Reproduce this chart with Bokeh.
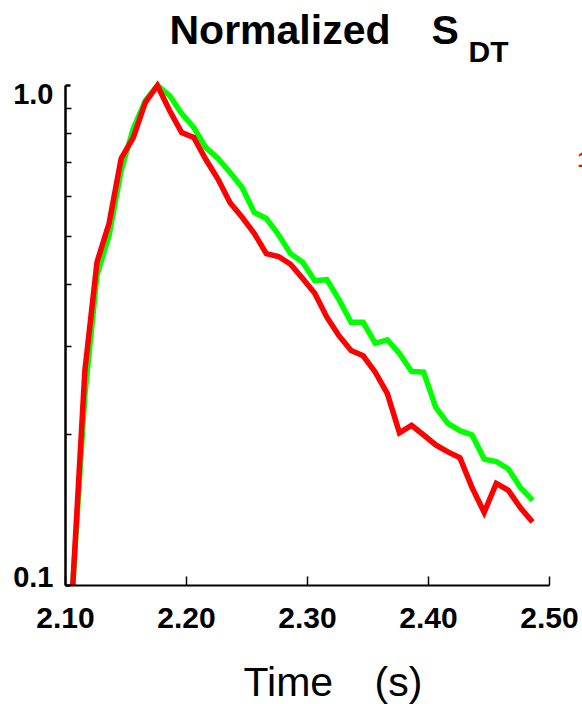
from bokeh.plotting import figure
from bokeh.models import (Label, FixedTicker, NumeralTickFormatter, Range1d,
                          CustomJSTickFormatter, LinearAxis, LogAxis)
from bokeh.embed import file_html
from bokeh.resources import INLINE

# ---- data ----
time_s = [2.106, 2.116, 2.126, 2.136, 2.146, 2.156, 2.166, 2.176, 2.186, 2.196,
          2.206, 2.216, 2.226, 2.236, 2.246, 2.256, 2.266, 2.276, 2.286, 2.296,
          2.306, 2.316, 2.326, 2.336, 2.346, 2.356, 2.366, 2.376, 2.386, 2.396,
          2.406, 2.416, 2.426, 2.436, 2.446, 2.456, 2.466, 2.476, 2.486]
green_sdt = [0.100, 0.240, 0.417, 0.501, 0.676, 0.820, 0.933, 1.000, 0.955, 0.879,
             0.824, 0.751, 0.715, 0.670, 0.625, 0.557, 0.542, 0.503, 0.461, 0.443,
             0.407, 0.409, 0.373, 0.336, 0.336, 0.305, 0.310, 0.291, 0.268, 0.267,
             0.227, 0.211, 0.204, 0.200, 0.179, 0.177, 0.171, 0.157, 0.148]
red_sdt = [0.100, 0.269, 0.443, 0.530, 0.715, 0.787, 0.925, 1.000, 0.891, 0.805,
           0.787, 0.711, 0.650, 0.583, 0.545, 0.506, 0.461, 0.455, 0.439, 0.411,
           0.384, 0.344, 0.316, 0.295, 0.288, 0.267, 0.242, 0.202, 0.209, 0.200,
           0.191, 0.185, 0.180, 0.157, 0.140, 0.160, 0.155, 0.143, 0.134]
x_ticks = [2.10, 2.20, 2.30, 2.40, 2.50]
y_major = [0.1, 1.0]
y_minor = [0.2, 0.3, 0.4, 0.5, 0.6, 0.7, 0.8, 0.9]
y_tick_labels = ["1.0", "0.1"]

X0, X1 = 2.10, 2.50
Y0, Y1 = 0.1, 1.0

W, H = 582, 704
# plot area (pixels) of the axes box inside the canvas
LEFT, RIGHT, TOP, BOTTOM = 65, 549, 85, 585
PX_PER_X = (RIGHT - LEFT) / (X1 - X0)
PX_PER_DEC = (BOTTOM - TOP)

xs = X0 - LEFT / PX_PER_X
xe = X1 + (W - RIGHT) / PX_PER_X
ye = Y1 * 10 ** (TOP / PX_PER_DEC)
ys = Y0 / 10 ** ((H - BOTTOM) / PX_PER_DEC)

p = figure(width=W, height=H, x_range=Range1d(xs, xe), y_range=Range1d(ys, ye),
           y_axis_type="log", x_axis_location=None, y_axis_location=None,
           output_backend="svg", toolbar_location=None)
p.min_border = 0
p.min_border_left = 0
p.min_border_right = 0
p.min_border_top = 0
p.min_border_bottom = 0
p.grid.visible = False
p.outline_line_color = None
p.background_fill_color = "white"
p.border_fill_color = "white"


def xd(px):
    return X0 + (px - LEFT) / PX_PER_X


def yb(py, fs):
    # data y for a text whose alphabetic baseline should sit at pixel row py
    return 10 ** ((TOP - (py - 0.34 * fs)) / PX_PER_DEC)


FONT = "Liberation Sans"

# x axis (fixed at y = 0.1)
xa = LinearAxis(fixed_location=Y0, bounds=(X0, X1))
xa.ticker = FixedTicker(ticks=x_ticks, minor_ticks=[])
xa.formatter = NumeralTickFormatter(format="0.00")
xa.axis_line_width = 2
xa.axis_line_color = "black"
xa.major_tick_in = 9
xa.major_tick_out = 0
xa.major_tick_line_width = 1.5
xa.minor_tick_line_color = None
xa.major_label_text_font = FONT
xa.major_label_text_font_style = "bold"
xa.major_label_text_font_size = "30px"
xa.major_label_text_color = "black"
xa.major_label_standoff = 22
p.add_layout(xa, "below")

# y axis (fixed at x = 2.10)
ya = LogAxis(fixed_location=X0, bounds=(Y0, Y1))
ya.ticker = FixedTicker(ticks=y_major, minor_ticks=y_minor)
ya.formatter = CustomJSTickFormatter(code="return ''")
ya.axis_line_width = 2.5
ya.axis_line_color = "black"
ya.major_tick_in = 5
ya.major_tick_out = 0
ya.major_tick_line_width = 2.5
ya.minor_tick_in = 6
ya.minor_tick_out = 0
ya.minor_tick_line_width = 1.5
ya.minor_tick_line_color = "black"
p.add_layout(ya, "left")

# lines
p.line(time_s, green_sdt, line_color="#00FF00", line_width=5.5, line_join="miter")
p.line(time_s, red_sdt, line_color="#FF0000", line_width=5.5, line_join="miter")


def text(px, py, s, fs, bold=True, color="black", align="left"):
    p.add_layout(Label(x=xd(px), y=yb(py, fs), text=s, text_align=align,
                       text_baseline="alphabetic", text_font=FONT,
                       text_font_style="bold" if bold else "normal",
                       text_font_size=f"{fs}px", text_color=color))


# y tick labels
text(53, 103, y_tick_labels[0], 29, align="right")
text(53, 586, y_tick_labels[1], 29, align="right")

# title
text(169, 43, "Normalized", 41)
text(431, 43, "S", 41)
text(468, 61, "DT", 30)

# x axis label ("Time   (s)" with its wide gap)
text(243, 695, "Time", 41, bold=False)
text(374, 695, "(s)", 41, bold=False)

# clipped red fragment at the right edge
text(577, 166, "1", 22, color="#FF0000")

open("out.html", "w").write(file_html(p, INLINE))
